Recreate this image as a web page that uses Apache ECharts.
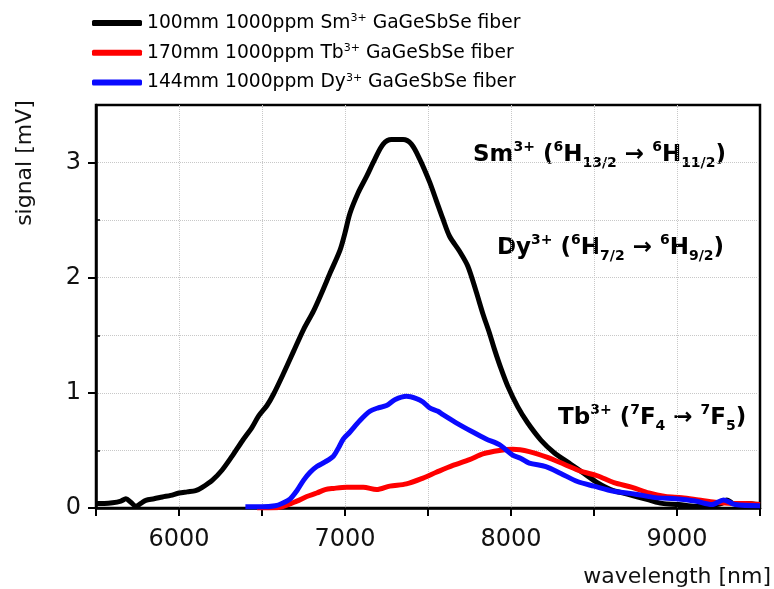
<!DOCTYPE html>
<html><head><meta charset="utf-8">
<script src="https://cdn.jsdelivr.net/npm/echarts@6/dist/echarts.min.js"></script>
<style>html,body{margin:0;padding:0;background:#fff}#c{width:774px;height:589px}</style>
</head><body><div id="c"></div>
<script>
// ---- data (wavelength in nm, signal in mV) ----
const smWavelength = [5500,5550,5600,5650,5680,5710,5740,5770,5800,5850,5900,5950,6000,6050,6100,6140,6200,6260,6320,6380,6440,6480,6530,6570,6630,6690,6750,6810,6860,6910,6970,7000,7030,7080,7130,7180,7230,7280,7350,7400,7450,7510,7550,7590,7630,7690,7740,7790,7830,7870,7900,7940,7980,8040,8100,8180,8260,8360,8440,8520,8600,8700,8830,8910,9010,9110,9190,9270,9300,9340,9410,9500];
const smSignal     = [0.04,0.04,0.045,0.06,0.08,0.05,0.015,0.04,0.067,0.08,0.096,0.11,0.13,0.14,0.15,0.18,0.24,0.33,0.45,0.58,0.70,0.80,0.89,0.99,1.17,1.36,1.55,1.71,1.87,2.04,2.24,2.39,2.56,2.74,2.88,3.03,3.16,3.20,3.20,3.16,3.03,2.83,2.67,2.51,2.36,2.23,2.10,1.88,1.69,1.52,1.38,1.21,1.06,0.88,0.74,0.59,0.48,0.38,0.30,0.22,0.16,0.12,0.07,0.04,0.03,0.015,0.02,0.04,0.07,0.04,0.04,0.03];

const tbWavelength = [6470,6550,6620,6710,6770,6830,6880,6930,7010,7110,7190,7270,7370,7470,7550,7650,7750,7830,7930,8010,8110,8220,8320,8420,8520,8620,8730,8830,8930,9030,9130,9230,9330,9410,9500];
const tbSignal     = [0.0,0.0,0.01,0.06,0.10,0.13,0.16,0.17,0.18,0.18,0.16,0.19,0.21,0.26,0.31,0.37,0.42,0.47,0.50,0.51,0.49,0.44,0.38,0.32,0.28,0.22,0.18,0.13,0.10,0.09,0.07,0.05,0.04,0.04,0.03];

const dyWavelength = [6400,6500,6580,6620,6670,6710,6750,6790,6830,6880,6930,6960,6990,7030,7090,7150,7200,7250,7300,7370,7430,7470,7510,7560,7590,7670,7770,7850,7930,8010,8060,8110,8210,8300,8400,8500,8620,8750,8870,8990,9110,9210,9280,9350,9500];
const dySignal     = [0.01,0.01,0.02,0.04,0.08,0.15,0.24,0.31,0.36,0.40,0.45,0.52,0.60,0.66,0.76,0.84,0.87,0.89,0.94,0.97,0.95,0.92,0.87,0.84,0.81,0.74,0.66,0.60,0.55,0.46,0.43,0.39,0.36,0.30,0.23,0.19,0.145,0.12,0.09,0.08,0.06,0.03,0.07,0.03,0.02];

const seriesNames = ['100mm 1000ppm Sm3+ GaGeSbSe fiber','170mm 1000ppm Tb3+ GaGeSbSe fiber','144mm 1000ppm Dy3+ GaGeSbSe fiber'];
const xLabelValues = [6000,7000,8000,9000];
const yLabelValues = [0,1,2,3];
const yMinorValues = [0.5,1.5,2.5];

function pairs(xs, ys){ return xs.map((x,i)=>[x, ys[i]]); }

const FONT = 'DejaVu Sans';
const chart = echarts.init(document.getElementById('c'), null, {renderer:'canvas'});

function mkSeries(name, xs, ys, color){
  return {
    name, type:'line', data: pairs(xs, ys), showSymbol:false, smooth:0.3,
    lineStyle:{color, width:5}, itemStyle:{color}, emphasis:{disabled:true}
  };
}

const annRich = (color) => ({
  m:{fontFamily:FONT, fontWeight:'bold', fontSize:23, lineHeight:30, color},
  u:{fontFamily:FONT, fontWeight:'bold', fontSize:14, lineHeight:22, verticalAlign:'top', color},
  d:{fontFamily:FONT, fontWeight:'bold', fontSize:14, lineHeight:14, verticalAlign:'bottom', color}
});

const gridLine = {color:'#c8c8c8', type:'dotted', width:1};

chart.setOption({
  animation:false,
  backgroundColor:'#fff',
  grid:{left:96, right:14, top:105, bottom:81, show:true, borderColor:'#000', borderWidth:2.5, backgroundColor:'transparent', containLabel:false},
  legend:{
    data:seriesNames, orient:'vertical', left:92, top:13, padding:0, itemGap:10.3,
    itemWidth:50, itemHeight:6, icon:'roundRect', selectedMode:false,
    formatter:function(name){
      const m = name.match(/^(.*?)(\d)\+(.*)$/);
      return '{a|'+m[1]+'}{s|'+m[2]+'+}{a|'+m[3]+'}';
    },
    textStyle:{fontFamily:FONT, fontSize:18.7, color:'#000',
      rich:{a:{fontFamily:FONT, fontSize:18.7, lineHeight:20, color:'#000'},
            s:{fontFamily:FONT, fontSize:11, lineHeight:14, verticalAlign:'top', color:'#000'}}}
  },
  xAxis:{
    type:'value', min:5500, max:9500, interval:500,
    axisLine:{show:true, onZero:false, lineStyle:{color:'#000', width:2.5}},
    axisTick:{show:true, length:8, lineStyle:{color:'#000', width:2}},
    axisLabel:{customValues:xLabelValues, margin:20, fontFamily:FONT, fontSize:24, color:'#111',
      formatter:function(v){ return String(v); }},
    splitLine:{show:true, showMinLine:false, showMaxLine:false, lineStyle:gridLine}
  },
  yAxis:[{
    type:'value', position:'left', min:0, max:3.5, interval:0.5,
    axisLine:{show:true, onZero:false, lineStyle:{color:'#000', width:2.5}},
    axisTick:{show:true, length:8, customValues:yLabelValues, lineStyle:{color:'#000', width:2}},
    axisLabel:{customValues:yLabelValues, margin:15, fontFamily:FONT, fontSize:24, color:'#111',
      formatter:function(v){ return String(v); }},
    splitLine:{show:true, showMinLine:false, showMaxLine:true, lineStyle:gridLine}
  },{
    type:'value', position:'left', offset:0, min:0, max:3.5, interval:0.5,
    axisLine:{show:false},
    axisTick:{show:true, inside:true, length:4, customValues:yMinorValues, lineStyle:{color:'#000', width:1.5}},
    axisLabel:{show:false},
    splitLine:{show:true, showMinLine:true, showMaxLine:true, lineStyle:gridLine}
  }],
  series:[
    mkSeries(seriesNames[0], smWavelength, smSignal, '#000000'),
    mkSeries(seriesNames[1], tbWavelength, tbSignal, '#ff0000'),
    mkSeries(seriesNames[2], dyWavelength, dySignal, '#0a0aff')
  ],
  graphic:[
    {type:'text', x:25, y:163, rotation:Math.PI/2,
      style:{text:'signal [mV]', fontFamily:FONT, fontSize:22, fill:'#111', align:'center', verticalAlign:'middle'}},
    {type:'text', x:771, y:577,
      style:{text:'wavelength [nm]', fontFamily:FONT, fontSize:22, fill:'#111', align:'right', verticalAlign:'middle'}},
    {type:'text', left:473, top:140,
      style:{text:'{m|Sm}{u|3+}{m| (}{u|6}{m|H}{d|13/2}{m| → }{u|6}{m|H}{d|11/2}{m|)}', rich:annRich('#000')}},
    {type:'text', left:497, top:233,
      style:{text:'{m|Dy}{u|3+}{m| (}{u|6}{m|H}{d|7/2}{m| → }{u|6}{m|H}{d|9/2}{m|)}', rich:annRich('#1515ff')}},
    {type:'text', left:558, top:403,
      style:{text:'{m|Tb}{u|3+}{m| (}{u|7}{m|F}{d|4}{m| → }{u|7}{m|F}{d|5}{m|)}', rich:annRich('#ff0000')}}
  ]
});
</script>
</body></html>
